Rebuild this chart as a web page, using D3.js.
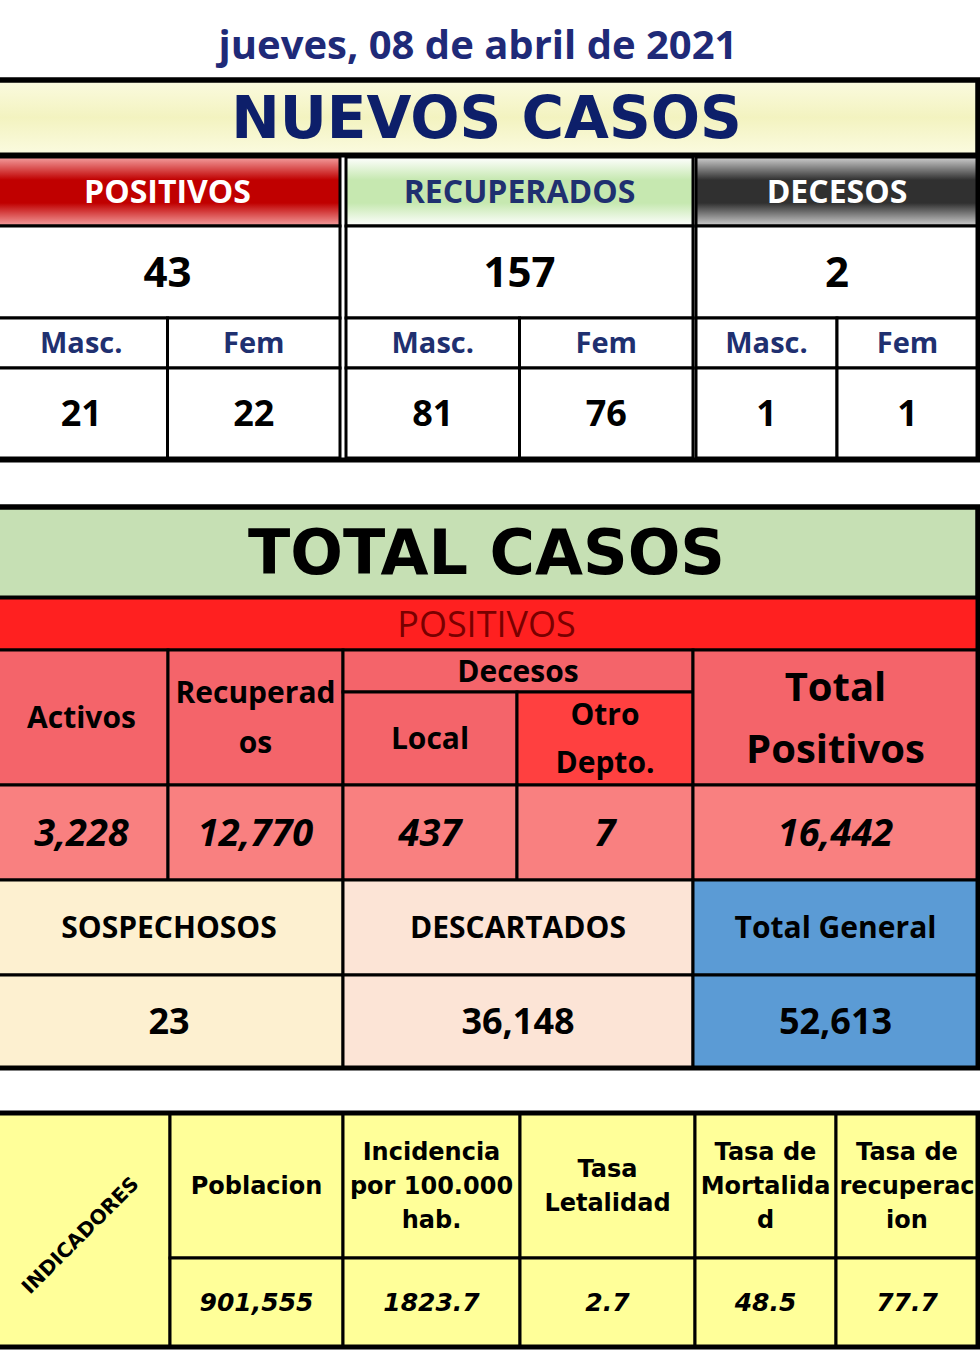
<!DOCTYPE html><html><head><meta charset="utf-8">
<script src="https://cdn.jsdelivr.net/npm/d3@7/dist/d3.min.js"></script>
<style>body{margin:0;background:#fff}</style></head><body>
<script>
const fecha="jueves, 08 de abril de 2021";
const nuevosCats=["POSITIVOS","RECUPERADOS","DECESOS"];
const nuevosTot=[43,157,2];
const sexLabels=["Masc.","Fem"];
const nuevosMasc=[21,81,1];
const nuevosFem=[22,76,1];
const totHeaders=["Activos","Recuperados","Local","Otro Depto.","Total Positivos"];
const totValues=["3,228","12,770","437","7","16,442"];
const otrosCats=["SOSPECHOSOS","DESCARTADOS","Total General"];
const otrosVals=["23","36,148","52,613"];
const indCats=["Poblacion","Incidencia por 100.000 hab.","Tasa Letalidad","Tasa de Mortalidad","Tasa de recuperacion"];
const indVals=["901,555","1823.7","2.7","48.5","77.7"];

const svg=d3.select("body").append("svg").attr("width",980).attr("height",1352);
const defs=svg.append("defs");
function grad(id,stops){const g=defs.append("linearGradient").attr("id",id).attr("x1",0).attr("x2",0).attr("y1",0).attr("y2",1);
 stops.forEach((c,i)=>g.append("stop").attr("offset",i/(stops.length-1)).attr("stop-color",c));}
grad("gRed",["#f4a0a0","#c00000","#c00000","#f4a0a0"]);
grad("gGreen",["#ffffff","#c6e8b0","#c6e8b0","#ffffff"]);
grad("gGrey",["#d0d0d0","#303030","#303030","#d0d0d0"]);
grad("gYel",["#fbfbe0","#f3f3c0","#fbfbe0"]);
const F="'Open Sans',sans-serif";
function cell(x0,x1,y0,y1,fill,txt,o={}){
 svg.append("rect").attr("x",x0).attr("y",y0).attr("width",x1-x0).attr("height",y1-y0).attr("fill",fill).attr("stroke","#000").attr("stroke-width",o.sw||3);
 if(txt===undefined)return;
 const lines=Array.isArray(txt)?txt:[txt]; const lh=o.lh||(o.size||30)*1.2;
 const t=svg.append("text").attr("x",(x0+x1)/2).attr("text-anchor","middle").attr("font-family",o.font||F).attr("font-weight",o.weight||"bold")
  .attr("font-size",o.size||30).attr("fill",o.color||"#000").attr("font-style",o.italic?"italic":"normal");
 const cy=(y0+y1)/2-(lines.length-1)*lh/2;
 lines.forEach((l,i)=>t.append("tspan").attr("x",(x0+x1)/2).attr("y",cy+i*lh).attr("dy","0.35em").text(l));
}
svg.append("text").attr("x",478).attr("y",45).attr("dy","0.35em").attr("text-anchor","middle").attr("font-family",F).attr("font-weight","bold").attr("font-size",40).attr("fill","#1f2a78").text(fecha);
// NUEVOS
cell(-5,978,80,155,"url(#gYel)","NUEVOS CASOS",{size:58,font:"'DejaVu Sans',sans-serif",weight:900,color:"#0d1f6a",sw:5});
const nx=d3.scaleOrdinal().domain(nuevosCats).range([[-5,340],[346,693],[696,978]]);
const hdrFill=["url(#gRed)","url(#gGreen)","url(#gGrey)"],hdrCol=["#fff","#1f3070","#fff"];
nuevosCats.forEach((c,i)=>{const [a,b]=nx(c);
 cell(a,b,157,226,hdrFill[i],c,{size:32,color:hdrCol[i]});
 cell(a,b,226,318,"#fff",String(nuevosTot[i]),{size:42});
 const m=(a+b)/2;
 cell(a,m,318,368,"#fff",sexLabels[0],{size:29,color:"#1f3070"});cell(m,b,318,368,"#fff",sexLabels[1],{size:29,color:"#1f3070"});
 cell(a,m,368,458,"#fff",String(nuevosMasc[i]),{size:36});cell(m,b,368,458,"#fff",String(nuevosFem[i]),{size:36});
});
svg.append("rect").attr("x",-5).attr("y",80).attr("width",983).attr("height",380).attr("fill","none").attr("stroke","#000").attr("stroke-width",5);
// TOTAL
cell(-5,978,507,598,"#c6e0b4","TOTAL CASOS",{size:62,font:"'DejaVu Sans',sans-serif",weight:900,sw:5});
cell(-5,978,598,650,"#ff2020","POSITIVOS",{size:36,weight:"normal",color:"#7a0000"});
const tx=[[-5,168],[168,343],[343,517],[517,693],[693,978]];
cell(tx[0][0],tx[0][1],650,785,"#f4646a",totHeaders[0],{size:30});
cell(tx[1][0],tx[1][1],650,785,"#f4646a",["Recuperad","os"],{size:30,lh:50});
cell(343,693,650,692,"#f4646a","Decesos",{size:30});
cell(tx[2][0],tx[2][1],692,785,"#f4646a",totHeaders[2],{size:30});
cell(tx[3][0],tx[3][1],692,785,"#ff4040",["Otro","Depto."],{size:30,lh:48});
cell(tx[4][0],tx[4][1],650,785,"#f4646a",["Total","Positivos"],{size:40,lh:62});
totValues.forEach((v,i)=>cell(tx[i][0],tx[i][1],785,880,"#f98080",v,{size:38,italic:true}));
const ox=[[-5,343],[343,693],[693,978]],oFill=["#fdf0d0","#fce4d6","#5b9bd5"];
otrosCats.forEach((c,i)=>{cell(ox[i][0],ox[i][1],880,975,oFill[i],c,{size:30});cell(ox[i][0],ox[i][1],975,1068,oFill[i],otrosVals[i],{size:36});});
svg.append("rect").attr("x",-5).attr("y",507).attr("width",983).attr("height",561).attr("fill","none").attr("stroke","#000").attr("stroke-width",5);
// INDICADORES
const ix=[[-5,170],[170,343],[343,520],[520,695],[695,836],[836,978]];
cell(ix[0][0],ix[0][1],1113,1347,"#ffff99");
svg.append("text").attr("transform","translate(85,1240) rotate(-45)").attr("text-anchor","middle").attr("font-family","'DejaVu Sans',sans-serif").attr("font-weight","bold").attr("font-size",20).text("INDICADORES");
const indLines=[["Poblacion"],["Incidencia","por 100.000","hab."],["Tasa","Letalidad"],["Tasa de","Mortalida","d"],["Tasa de","recuperac","ion"]];
indCats.forEach((c,i)=>{const [a,b]=ix[i+1];
 cell(a,b,1113,1258,"#ffff99",indLines[i],{size:24,lh:34,font:"'DejaVu Sans',sans-serif"});
 cell(a,b,1258,1347,"#ffff99",indVals[i],{size:25,italic:true,font:"'DejaVu Sans',sans-serif"});
});
svg.append("rect").attr("x",-5).attr("y",1113).attr("width",983).attr("height",234).attr("fill","none").attr("stroke","#000").attr("stroke-width",5);
</script></body></html>
